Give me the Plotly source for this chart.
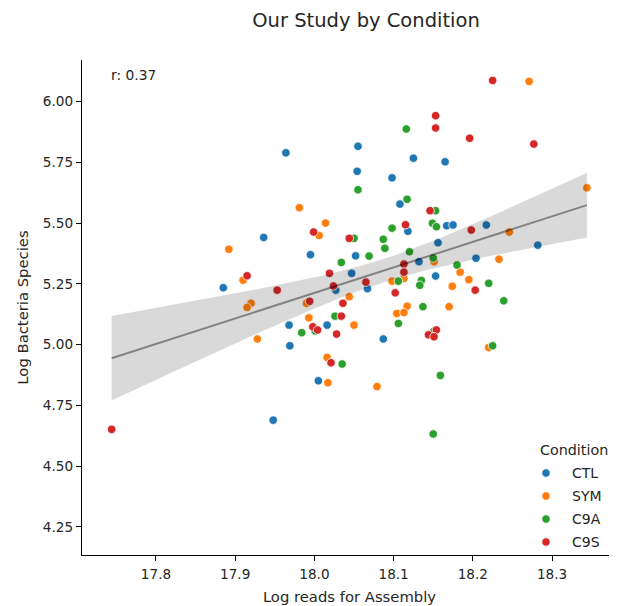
import numpy as np
import plotly.graph_objects as go

# ---- data ----
conditions = ["CTL", "SYM", "C9A", "C9S"]
colors = ["#1f77b4", "#ff7f0e", "#2ca02c", "#d62728"]

ctl_x = [17.964, 17.936, 17.995, 17.885, 18.027, 18.055, 18.054, 18.125, 18.165, 18.098,
         18.108, 18.118, 18.167, 18.175, 18.217, 18.156, 18.282, 18.204, 18.132, 18.052,
         18.047, 18.153, 18.067, 17.968, 18.016, 17.969, 18.005, 17.948, 18.087]
ctl_y = [5.789, 5.441, 5.370, 5.234, 5.224, 5.816, 5.713, 5.767, 5.752, 5.686,
         5.578, 5.466, 5.489, 5.492, 5.492, 5.419, 5.409, 5.355, 5.341, 5.365,
         5.293, 5.282, 5.230, 5.080, 5.080, 4.995, 4.851, 4.689, 5.023]

sym_x = [17.981, 18.014, 18.006, 17.892, 17.910, 17.920, 17.915, 17.990, 18.044, 18.271,
         18.344, 18.246, 18.233, 18.184, 18.195, 18.174, 18.151, 18.113, 18.098, 18.117,
         18.170, 17.993, 17.928, 18.016, 18.017, 18.104, 18.113, 18.050, 18.220, 18.079]
sym_y = [5.563, 5.500, 5.449, 5.392, 5.265, 5.170, 5.153, 5.170, 5.197, 6.083,
         5.645, 5.463, 5.351, 5.298, 5.267, 5.240, 5.341, 5.272, 5.261, 5.158,
         5.156, 5.110, 5.023, 4.947, 4.843, 5.128, 5.132, 5.080, 4.988, 4.827]

c9a_x = [18.034, 18.116, 18.055, 18.117, 18.153, 18.149, 18.154, 18.098, 18.050, 18.087,
         18.089, 18.120, 18.069, 18.150, 18.180, 18.135, 18.133, 18.106, 18.220, 18.239,
         18.137, 18.026, 17.984, 18.001, 18.035, 18.106, 18.151, 18.225, 18.159, 18.150]
c9a_y = [5.338, 5.887, 5.637, 5.598, 5.551, 5.499, 5.485, 5.479, 5.437, 5.433,
         5.396, 5.382, 5.364, 5.356, 5.327, 5.264, 5.244, 5.261, 5.252, 5.180,
         5.156, 5.117, 5.049, 5.056, 4.920, 5.087, 5.056, 4.995, 4.873, 4.632]

c9s_x = [17.999, 18.019, 17.915, 17.953, 18.024, 18.044, 17.994, 18.036, 18.225, 18.153,
         18.153, 18.196, 18.277, 18.146, 18.115, 18.198, 18.113, 18.113, 18.065, 18.102,
         18.203, 17.998, 18.004, 18.034, 18.028, 18.021, 17.744, 18.144, 18.154, 18.151]
c9s_y = [5.463, 5.293, 5.283, 5.224, 5.241, 5.437, 5.178, 5.170, 6.087, 5.942,
         5.891, 5.849, 5.825, 5.551, 5.493, 5.471, 5.331, 5.298, 5.257, 5.213,
         5.224, 5.073, 5.060, 5.117, 5.043, 4.925, 4.651, 5.040, 5.060, 5.032]

series_x = [ctl_x, sym_x, c9a_x, c9s_x]
series_y = [ctl_y, sym_y, c9a_y, c9s_y]

x_ticks = [17.8, 17.9, 18.0, 18.1, 18.2, 18.3]
y_ticks = [4.25, 4.50, 4.75, 5.00, 5.25, 5.50, 5.75, 6.00]
r_label = "r: 0.37"
legend_title = "Condition"

# ---- regression fit with 95% confidence band ----
all_x = np.concatenate([np.array(v) for v in series_x])
all_y = np.concatenate([np.array(v) for v in series_y])
n = len(all_x)
slope, intercept = np.polyfit(all_x, all_y, 1)
xs = np.linspace(all_x.min(), all_x.max(), 100)
ys = intercept + slope * xs
resid = all_y - (intercept + slope * all_x)
s_err = np.sqrt(np.sum(resid ** 2) / (n - 2))
sxx = np.sum((all_x - all_x.mean()) ** 2)
se = s_err * np.sqrt(1.0 / n + (xs - all_x.mean()) ** 2 / sxx)
tval = 1.98
upper = ys + tval * se
lower = ys - tval * se

FONT = "DejaVu Sans"
TXT = "#262626"
fig = go.Figure()

for name, col, xv, yv in zip(conditions, colors, series_x, series_y):
    fig.add_trace(go.Scatter(
        x=xv, y=yv, mode="markers", name=name, showlegend=False,
        marker=dict(color=col, size=8.5, line=dict(color="white", width=0.8)),
    ))

fig.add_trace(go.Scatter(
    x=np.concatenate([xs, xs[::-1]]), y=np.concatenate([upper, lower[::-1]]),
    fill="toself", fillcolor="rgba(0,0,0,0.15)", line=dict(width=0),
    mode="lines", showlegend=False, hoverinfo="skip",
))
fig.add_trace(go.Scatter(
    x=xs, y=ys, mode="lines", line=dict(color="rgba(0,0,0,0.4)", width=2),
    showlegend=False, hoverinfo="skip",
))

# the page body adds an 8px offset, so the figure is 8px smaller and
# screen positions are converted to figure positions
OFF = 8
W, H = 617 - OFF, 606 - OFF
L, T = 82 - OFF, 60 - OFF
R = 0
B = H - (555 - OFF)
pw = W - L - R
ph = H - T - B


def px_x(p):
    return (p - OFF - L) / pw


def px_y(p):
    return (H - B - (p - OFF)) / ph


# ---- legend drawn as layout decoration ----
shapes = []
annotations = [
    dict(text=r_label, xref="paper", yref="paper", x=px_x(109), y=px_y(75),
         xanchor="left", yanchor="middle", showarrow=False,
         font=dict(size=13.8, color=TXT)),
    dict(text=legend_title, xref="paper", yref="paper", x=px_x(538), y=px_y(450),
         xanchor="left", yanchor="middle", showarrow=False,
         font=dict(size=14.3, color=TXT)),
]
for i, (name, col) in enumerate(zip(conditions, colors)):
    yy = 473 + i * 23
    shapes.append(dict(type="circle", xref="paper", yref="paper",
                       xsizemode="pixel", ysizemode="pixel",
                       xanchor=px_x(546), yanchor=px_y(yy),
                       x0=-4.2, x1=4.2, y0=-4.2, y1=4.2,
                       fillcolor=col, line=dict(color="white", width=0.8)))
    annotations.append(dict(text=name, xref="paper", yref="paper",
                            x=px_x(570), y=px_y(yy), xanchor="left", yanchor="middle",
                            showarrow=False, font=dict(size=14, color=TXT)))

fig.update_layout(
    width=W, height=H,
    margin=dict(l=L, r=R, t=T, b=B, autoexpand=False),
    paper_bgcolor="white", plot_bgcolor="white",
    showlegend=False,
    font=dict(family=FONT, size=13, color=TXT),
    title=dict(text="Our Study by Condition", x=(366 - OFF) / W, xanchor="center",
               y=1 - (20 - OFF) / H, yanchor="middle", font=dict(size=19.5, color=TXT)),
    xaxis=dict(range=[17.7066, 18.382], tickvals=x_ticks,
               ticktext=[f"{v:.1f}" for v in x_ticks],
               showgrid=False, zeroline=False, showline=True, linecolor="black",
               linewidth=1.3, ticks="outside", ticklen=5, tickwidth=1.1,
               tickcolor="black", tickfont=dict(size=13.6, color=TXT),
               ticklabelstandoff=2,
               title=dict(text="Log reads for Assembly", font=dict(size=14.8), standoff=10)),
    yaxis=dict(range=[4.134, 6.171], tickvals=y_ticks,
               ticktext=[f"{v:.2f}" for v in y_ticks],
               showgrid=False, zeroline=False, showline=True, linecolor="black",
               linewidth=1.3, ticks="outside", ticklen=5, tickwidth=1.1,
               tickcolor="black", tickfont=dict(size=13.6, color=TXT),
               title=dict(text="Log Bacteria Species", font=dict(size=14.8), standoff=10)),
    shapes=shapes,
    annotations=annotations,
)

fig.write_html("out.html")
